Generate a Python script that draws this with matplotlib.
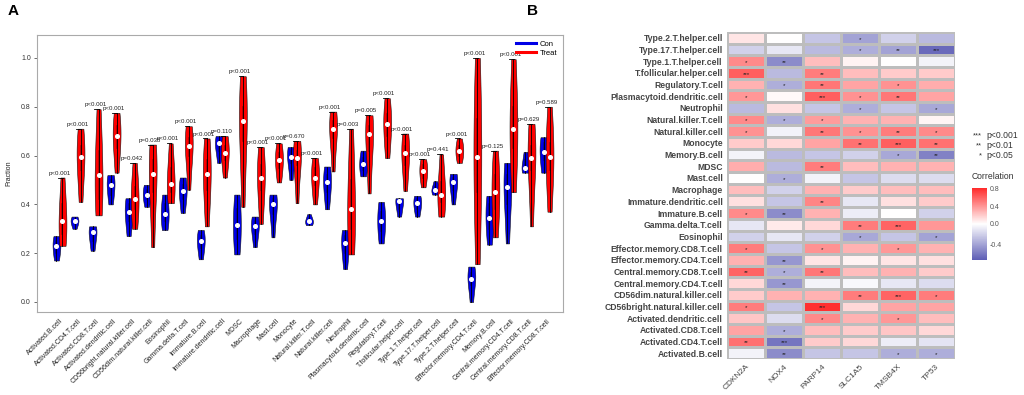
import numpy as np
import matplotlib
matplotlib.use("Agg")
import matplotlib.pyplot as plt
from matplotlib.colors import LinearSegmentedColormap, TwoSlopeNorm
from matplotlib.lines import Line2D
import matplotlib.transforms as mtransforms

plt.rcParams['font.family'] = ['Liberation Sans', 'DejaVu Sans']

# ---------------- Panel A data ----------------
cells = ["Activated.B.cell", "Activated.CD4.T.cell", "Activated.CD8.T.cell",
         "Activated.dendritic.cell", "CD56bright.natural.killer.cell",
         "CD56dim.natural.killer.cell", "Eosinophil", "Gamma.delta.T.cell",
         "Immature.B.cell", "Immature.dendritic.cell", "MDSC", "Macrophage",
         "Mast.cell", "Monocyte", "Natural.killer.T.cell", "Natural.killer.cell",
         "Neutrophil", "Plasmacytoid.dendritic.cell", "Regulatory.T.cell",
         "T.follicular.helper.cell", "Type.1.T.helper.cell", "Type.17.T.helper.cell",
         "Type.2.T.helper.cell", "Effector.memory.CD4.T.cell", "Memory.B.cell",
         "Central.memory.CD4.T.cell", "Central.memory.CD8.T.cell",
         "Effector.memory.CD8.T.cell"]

# five-number summaries (min, q1, median, q3, max)
con_stats = [
    (0.17, 0.20, 0.23, 0.25, 0.27), (0.30, 0.32, 0.33, 0.34, 0.35),
    (0.21, 0.25, 0.285, 0.30, 0.31), (0.40, 0.44, 0.48, 0.50, 0.52),
    (0.27, 0.33, 0.37, 0.40, 0.425), (0.39, 0.42, 0.44, 0.46, 0.48),
    (0.295, 0.33, 0.36, 0.40, 0.44), (0.365, 0.42, 0.455, 0.48, 0.51),
    (0.175, 0.22, 0.25, 0.27, 0.295), (0.57, 0.62, 0.65, 0.66, 0.68),
    (0.195, 0.26, 0.315, 0.38, 0.44), (0.225, 0.28, 0.31, 0.33, 0.35),
    (0.265, 0.36, 0.40, 0.42, 0.44), (0.50, 0.57, 0.595, 0.62, 0.635),
    (0.315, 0.325, 0.33, 0.34, 0.36), (0.38, 0.45, 0.49, 0.52, 0.555),
    (0.135, 0.20, 0.24, 0.27, 0.295), (0.515, 0.54, 0.565, 0.59, 0.62),
    (0.24, 0.29, 0.33, 0.37, 0.41), (0.35, 0.38, 0.415, 0.42, 0.425),
    (0.35, 0.38, 0.405, 0.42, 0.435), (0.44, 0.45, 0.46, 0.47, 0.495),
    (0.40, 0.46, 0.49, 0.51, 0.525), (0.0, 0.07, 0.095, 0.12, 0.145),
    (0.235, 0.30, 0.345, 0.40, 0.435), (0.24, 0.40, 0.47, 0.52, 0.57),
    (0.53, 0.54, 0.55, 0.58, 0.615), (0.53, 0.58, 0.615, 0.65, 0.675)]
treat_stats = [
    (0.23, 0.28, 0.33, 0.40, 0.51), (0.41, 0.54, 0.595, 0.64, 0.71),
    (0.355, 0.42, 0.52, 0.62, 0.79), (0.53, 0.63, 0.68, 0.72, 0.775),
    (0.30, 0.38, 0.42, 0.47, 0.57), (0.225, 0.45, 0.525, 0.58, 0.645),
    (0.405, 0.45, 0.485, 0.55, 0.65), (0.46, 0.60, 0.64, 0.67, 0.72),
    (0.31, 0.46, 0.525, 0.58, 0.67), (0.51, 0.58, 0.61, 0.64, 0.68),
    (0.39, 0.66, 0.74, 0.80, 0.925), (0.32, 0.46, 0.51, 0.56, 0.635),
    (0.49, 0.55, 0.58, 0.61, 0.65), (0.405, 0.56, 0.59, 0.62, 0.66),
    (0.40, 0.48, 0.51, 0.55, 0.59), (0.535, 0.67, 0.71, 0.74, 0.78),
    (0.195, 0.30, 0.38, 0.50, 0.71), (0.445, 0.62, 0.69, 0.72, 0.765),
    (0.59, 0.68, 0.73, 0.77, 0.835), (0.455, 0.56, 0.61, 0.64, 0.69),
    (0.47, 0.51, 0.535, 0.56, 0.585), (0.35, 0.41, 0.44, 0.49, 0.605),
    (0.57, 0.60, 0.62, 0.64, 0.67), (0.155, 0.45, 0.595, 0.75, 1.0),
    (0.265, 0.38, 0.45, 0.52, 0.62), (0.45, 0.63, 0.71, 0.80, 0.995),
    (0.31, 0.54, 0.59, 0.64, 0.73), (0.37, 0.54, 0.595, 0.65, 0.80)]
p_labels = ["p<0.001", "p<0.001", "p<0.001", "p<0.001", "p=0.042", "p=0.035",
            "p<0.001", "p<0.001", "p<0.001", "p=0.110", "p<0.001", "p<0.001",
            "p<0.001", "p=0.670", "p<0.001", "p<0.001", "p=0.003", "p=0.005",
            "p<0.001", "p<0.001", "p<0.001", "p=0.441", "p<0.001", "p<0.001",
            "p=0.125", "p<0.001", "p=0.629", "p=0.589"]

# ---------------- Panel B data ----------------
genes = ["CDKN2A", "NOX4", "PARP14", "SLC1A5", "TMSB4X", "TP53"]
hm_rows = ["Type.2.T.helper.cell", "Type.17.T.helper.cell", "Type.1.T.helper.cell",
           "T.follicular.helper.cell", "Regulatory.T.cell", "Plasmacytoid.dendritic.cell",
           "Neutrophil", "Natural.killer.T.cell", "Natural.killer.cell", "Monocyte",
           "Memory.B.cell", "MDSC", "Mast.cell", "Macrophage", "Immature.dendritic.cell",
           "Immature.B.cell", "Gamma.delta.T.cell", "Eosinophil",
           "Effector.memory.CD8.T.cell", "Effector.memory.CD4.T.cell",
           "Central.memory.CD8.T.cell", "Central.memory.CD4.T.cell",
           "CD56dim.natural.killer.cell", "CD56bright.natural.killer.cell",
           "Activated.dendritic.cell", "Activated.CD8.T.cell", "Activated.CD4.T.cell",
           "Activated.B.cell"]
corr = [
    [0.10, 0.00, -0.25, -0.40, -0.20, -0.30],
    [-0.20, -0.10, -0.30, -0.35, -0.40, -0.65],
    [0.45, -0.50, 0.25, 0.05, 0.00, -0.05],
    [0.62, -0.30, 0.50, 0.25, 0.20, 0.20],
    [0.30, -0.35, 0.52, 0.35, 0.42, 0.32],
    [0.40, 0.02, 0.62, 0.42, 0.52, 0.35],
    [-0.30, 0.12, -0.25, -0.35, -0.25, -0.38],
    [0.45, -0.35, 0.38, 0.30, 0.30, 0.04],
    [0.42, -0.06, 0.52, 0.42, 0.50, 0.45],
    [0.20, 0.15, 0.35, 0.55, 0.62, 0.55],
    [-0.05, -0.30, -0.25, -0.20, -0.38, -0.55],
    [0.32, -0.30, 0.50, 0.25, 0.30, 0.30],
    [0.00, -0.35, -0.05, -0.25, -0.15, -0.15],
    [0.25, -0.20, 0.30, 0.20, 0.25, 0.25],
    [0.12, -0.25, 0.47, -0.10, 0.12, 0.20],
    [0.45, -0.50, 0.30, -0.08, 0.00, -0.20],
    [-0.10, 0.08, 0.15, 0.50, 0.60, 0.40],
    [-0.20, -0.10, -0.20, -0.38, -0.25, -0.40],
    [0.50, -0.25, 0.42, 0.30, 0.40, 0.30],
    [0.30, -0.45, 0.10, 0.05, 0.10, 0.12],
    [0.60, -0.35, 0.52, 0.25, 0.30, 0.20],
    [0.15, -0.45, -0.05, -0.03, -0.10, -0.15],
    [0.20, 0.30, 0.30, 0.50, 0.60, 0.50],
    [0.50, -0.25, 0.80, 0.15, 0.35, 0.35],
    [0.22, -0.15, 0.45, 0.30, 0.40, 0.25],
    [0.35, -0.35, 0.25, 0.20, 0.22, 0.15],
    [0.55, -0.60, 0.20, 0.15, -0.08, -0.12],
    [-0.05, -0.50, -0.25, -0.25, -0.35, -0.35]]
stars = [
    ["", "", "", "*", "", ""], ["", "", "", "*", "**", "***"],
    ["*", "**", "", "", "", ""], ["***", "", "**", "", "", ""],
    ["", "*", "**", "", "*", ""], ["*", "", "***", "*", "**", ""],
    ["", "", "", "*", "", "*"], ["*", "*", "*", "", "", ""],
    ["*", "", "**", "*", "**", "*"], ["", "", "", "**", "***", "**"],
    ["", "", "", "", "*", "**"], ["", "", "**", "", "", ""],
    ["", "*", "", "", "", ""], ["", "", "", "", "", ""],
    ["", "", "**", "", "", ""], ["*", "**", "", "", "", ""],
    ["", "", "", "**", "***", ""], ["", "", "", "*", "", "*"],
    ["*", "", "*", "", "*", ""], ["", "**", "", "", "", ""],
    ["**", "*", "**", "", "", ""], ["", "**", "", "", "", ""],
    ["", "", "", "**", "***", "*"], ["*", "", "***", "", "", ""],
    ["", "", "*", "", "*", ""], ["", "*", "", "", "", ""],
    ["**", "***", "", "", "", ""], ["", "**", "", "", "*", "*"]]

# ---------------- figure ----------------
fig = plt.figure(figsize=(10.24, 3.95), dpi=100)

# ===== Panel A =====
axA = fig.add_axes([37/1024, 1-312/395, (563-37)/1024, (312-35)/395])
n = len(cells)
con_pos = [3*i for i in range(n)]
tr_pos = [3*i + 1 for i in range(n)]

def draw_violins(stats, pos, color):
    parts = axA.violinplot([list(s) for s in stats], positions=pos, widths=1.3,
                           showextrema=False, showmedians=False, bw_method=0.85)
    for b in parts['bodies']:
        b.set_facecolor(color)
        b.set_edgecolor('#111111')
        b.set_linewidth(0.4)
        b.set_alpha(1)
    for s, x in zip(stats, pos):
        axA.plot([x, x], [s[0], s[4]], color='black', lw=0.6, zorder=3)
        axA.plot([x, x], [s[1], s[3]], color='black', lw=1.2, alpha=0.3, zorder=3)
        axA.plot([x], [s[2]], marker='o', ms=2.6, color='white', mec='white', zorder=4)

draw_violins(con_stats, con_pos, '#0000E6')
draw_violins(treat_stats, tr_pos, '#FF0000')

for i in range(n):
    top = max(con_stats[i][4], treat_stats[i][4])
    axA.plot([tr_pos[i] - 0.7, tr_pos[i] + 0.1], [treat_stats[i][4]] * 2,
             color='black', lw=0.6, zorder=3)
    axA.text(con_pos[i] + 0.5, top + 0.008, p_labels[i], fontsize=4.4,
             ha='center', va='bottom', color='#222222')

axA.set_xlim(-3.24, 84.24)
axA.set_ylim(-0.041, 1.094)
axA.set_yticks([0.0, 0.2, 0.4, 0.6, 0.8, 1.0])
axA.set_yticklabels(["0.0", "0.2", "0.4", "0.6", "0.8", "1.0"])
axA.tick_params(axis='y', labelsize=5, length=2.5, width=0.5, colors='#333333', pad=2)
axA.set_xticks([])
for sp in axA.spines.values():
    sp.set_color('#AAAAAA')
    sp.set_linewidth(0.8)
axA.set_ylabel("Fraction", fontsize=5, color='#222222', labelpad=6)

trans = mtransforms.blended_transform_factory(axA.transData, axA.transAxes)
for i, name in enumerate(cells):
    axA.text(con_pos[i] + 0.5, -0.02, name, transform=trans, rotation=45,
             ha='right', va='top', rotation_mode='anchor', fontsize=5, color='#222222')

handles = [Line2D([0], [0], color='#0000E6', lw=2.2),
           Line2D([0], [0], color='#FF0000', lw=2.2)]
axA.legend(handles, ["Con", "Treat"], loc='upper right', frameon=False, fontsize=5.5,
           handlelength=2.6, handletextpad=0.5, borderaxespad=0.3, labelspacing=0.25)

# ===== Panel B =====
axB = fig.add_axes([727/1024, 1-359/395, (955-727)/1024, (359-32)/395])
cmap = LinearSegmentedColormap.from_list('corr', ['#5D5DB5', '#FFFFFF', '#FF2B2B'])
norm = TwoSlopeNorm(vmin=-0.71, vcenter=0.0, vmax=0.82)
data = np.array(corr)
mesh = axB.pcolormesh(np.arange(len(genes) + 1), np.arange(len(hm_rows) + 1), data,
                      cmap=cmap, norm=norm, edgecolors='#BDBDBD', linewidth=0.8)
axB.set_xlim(0, len(genes))
axB.set_ylim(len(hm_rows), 0)
for r in range(len(hm_rows)):
    for c in range(len(genes)):
        if stars[r][c]:
            axB.text(c + 0.5, r + 0.62, stars[r][c], ha='center', va='center',
                     fontsize=4.5, color='#222222')
axB.set_yticks(np.arange(len(hm_rows)) + 0.5)
axB.set_yticklabels(hm_rows, fontsize=6.2, fontweight='bold', color='#444444')
axB.set_xticks(np.arange(len(genes)) + 0.5)
axB.set_xticklabels(genes, rotation=45, ha='right', rotation_mode='anchor',
                    fontsize=6, color='#444444')
axB.tick_params(length=0, pad=3)
for sp in axB.spines.values():
    sp.set_visible(False)

# star legend
fig.text(982/1024, 1-136/395, "***", ha='right', va='center', fontsize=5.5, color='#333333')
fig.text(986/1024, 1-136/395, "p<0.001", ha='left', va='center', fontsize=6.2, color='#333333')
fig.text(982/1024, 1-146/395, "**", ha='right', va='center', fontsize=5.5, color='#333333')
fig.text(986/1024, 1-146/395, "p<0.01", ha='left', va='center', fontsize=6.2, color='#333333')
fig.text(982/1024, 1-156/395, "*", ha='right', va='center', fontsize=5.5, color='#333333')
fig.text(986/1024, 1-156/395, "p<0.05", ha='left', va='center', fontsize=6.2, color='#333333')
fig.text(972/1024, 1-177/395, "Correlation", ha='left', va='center', fontsize=6.2,
         color='#333333')

cax = fig.add_axes([972/1024, 1-260/395, 15/1024, 72/395])
cb = fig.colorbar(mesh, cax=cax, ticks=[-0.4, 0.0, 0.4, 0.8])
cb.ax.set_yticklabels(["-0.4", "0.0", "0.4", "0.8"])
cb.ax.tick_params(length=0, labelsize=5, colors='#555555', pad=2)
cb.outline.set_visible(False)

fig.text(8/1024, 1-4/395, "A", fontsize=11, fontweight='bold', ha='left', va='top')
fig.text(527/1024, 1-4/395, "B", fontsize=11, fontweight='bold', ha='left', va='top')

fig.savefig("out.png", dpi=100)
